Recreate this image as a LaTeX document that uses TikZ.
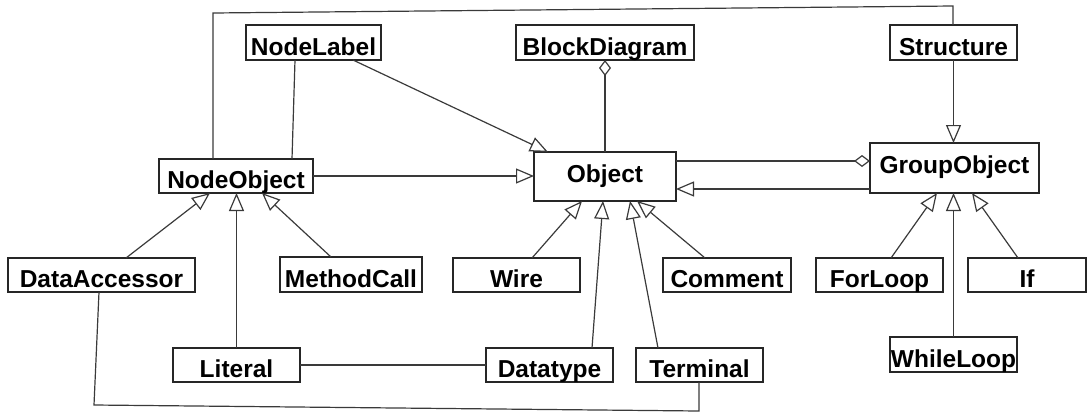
\documentclass[tikz,border=0pt]{standalone}
\usepackage{fontspec}
\setmainfont{Liberation Sans}
\usetikzlibrary{arrows.meta}
\definecolor{edge}{HTML}{3A3A3A}
\tikzset{
  cls/.style={draw=black!85, line width=1.2pt, inner sep=0pt, outer sep=0pt,
    font=\bfseries\fontsize{24.5}{26}\selectfont, text height=25pt, text depth=0pt,
    minimum height=35pt},
  bigcls/.style={cls, text height=17pt, text depth=6pt},
  link/.style={draw=edge, line width=1.2pt},
  inh/.style={link, -{Triangle[open, length=18pt, width=15pt, line width=1.2pt]}},
  agg/.style={link, {Diamond[open, length=16pt, width=12pt, line width=1.2pt]}-},
}
\begin{document}
\begin{tikzpicture}[x=1pt, y=-1pt]
\useasboundingbox (0,0) rectangle (1087,413);

% classes
\node[cls, minimum width=135pt] (nlab) at (313.5,42.5) {NodeLabel};
\node[cls, minimum width=178pt] (bd) at (605,42.5) {BlockDiagram};
\node[cls, minimum width=127pt] (struct) at (953.5,42.5) {Structure};
\node[cls, minimum width=154pt, minimum height=34pt] (nobj) at (236,176) {NodeObject};
\node[bigcls, minimum width=142pt, minimum height=49pt] (obj) at (605,176.5) {Object};
\node[bigcls, minimum width=169pt, minimum height=50pt] (grp) at (954.5,168) {GroupObject};
\node[cls, minimum width=187pt, minimum height=34pt] (da) at (101.5,275) {DataAccessor};
\node[cls, minimum width=142pt] (mc) at (351,274.5) {MethodCall};
\node[cls, minimum width=127pt, minimum height=34pt] (wire) at (516.5,275) {Wire};
\node[cls, minimum width=128pt, minimum height=34pt] (com) at (727,275) {Comment};
\node[cls, minimum width=127pt, minimum height=34pt] (fl) at (879.5,275) {ForLoop};
\node[cls, minimum width=118pt, minimum height=34pt] (if) at (1027,275) {If};
\node[cls, minimum width=127pt, minimum height=34pt] (lit) at (236.5,365) {Literal};
\node[cls, minimum width=127pt, minimum height=34pt] (dt) at (549.5,365) {Datatype};
\node[cls, minimum width=127pt, minimum height=34pt] (term) at (699.5,365) {Terminal};
\node[cls, minimum width=127pt] (wl) at (953.5,354.5) {WhileLoop};

% routing points
\coordinate (tl) at (213,13);
\coordinate (tr) at (953,6);
\coordinate (b1) at (94,405);
\coordinate (b2) at (699,411);
\coordinate (g1) at ([yshift=7pt]grp.west);
\coordinate (g2) at ([yshift=-21pt]grp.west);

% plain associations
\draw[link] (nobj.north -| tl) -- (tl) -- (tr) -- (struct.north -| tr);
\draw[link] ([xshift=49pt]nlab.south west) -- ([xshift=133pt]nobj.north west);
\draw[link] (lit.east) -- (dt.west |- lit.east);
\draw[link] ([xshift=91pt]da.south west) -- (b1) -- (b2) -- ([xshift=63pt]term.south west);

% aggregations
\draw[agg] (bd.south) -- (obj.north);
\draw[agg] (g1) -- (g1 -| obj.east);

% generalisations
\draw[inh] ([xshift=107pt]nlab.south west) -- ([xshift=14pt]obj.north west);
\draw[inh] (nobj.east) -- (obj.west |- nobj.east);
\draw[inh] (g2) -- (g2 -| obj.east);
\draw[inh] (struct.south) -- (struct.south |- grp.north);
\draw[inh] ([xshift=118pt]da.north west) -- ([xshift=51pt]nobj.south west);
\draw[inh] (lit.north) -- (lit.north |- nobj.south);
\draw[inh] ([xshift=51pt]mc.north west) -- ([xshift=103pt]nobj.south west);
\draw[inh] ([xshift=79pt]wire.north west) -- ([xshift=48pt]obj.south west);
\draw[inh] ([xshift=106pt]dt.north west) -- ([xshift=69pt]obj.south west);
\draw[inh] ([xshift=22pt]term.north west) -- ([xshift=96pt]obj.south west);
\draw[inh] ([xshift=42pt]com.north west) -- ([xshift=103pt]obj.south west);
\draw[inh] ([xshift=75pt]fl.north west) -- ([xshift=67pt]grp.south west);
\draw[inh] (wl.north) -- (wl.north |- grp.south);
\draw[inh] ([xshift=50pt]if.north west) -- ([xshift=102pt]grp.south west);
\end{tikzpicture}
\end{document}
